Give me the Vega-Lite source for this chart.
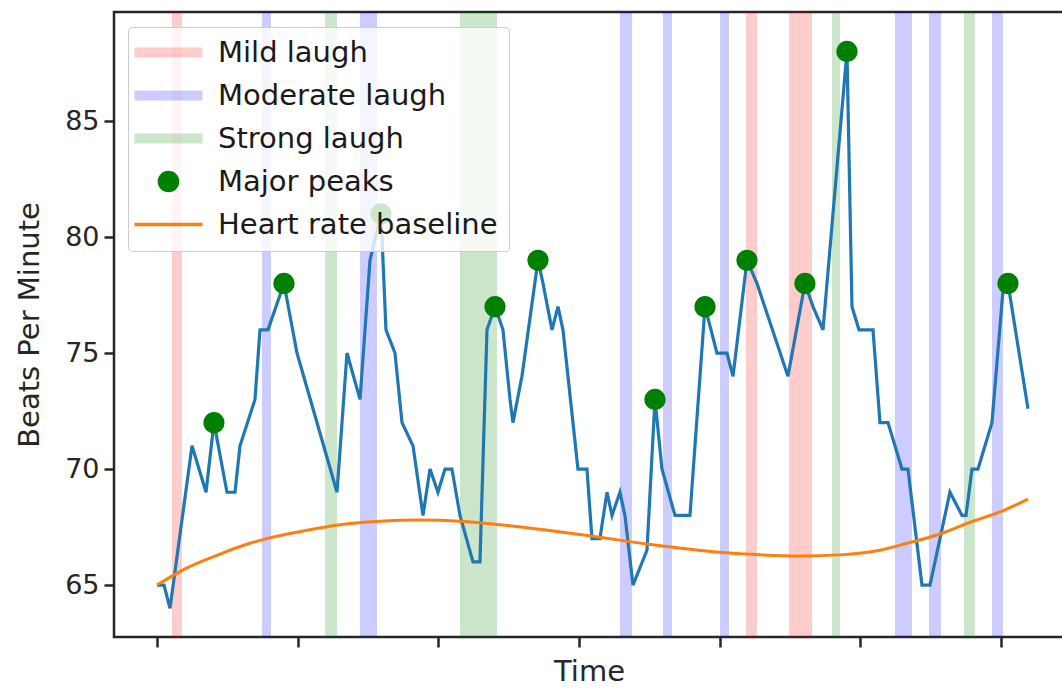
{
  "$schema": "https://vega.github.io/schema/vega-lite/v6.json",
  "width": 950,
  "height": 625,
  "autosize": {"type": "none"},
  "padding": {"left": 114, "top": 12, "right": 0, "bottom": 54},
  "background": "white",
  "config": {
    "view": {"stroke": "#262626", "strokeWidth": 2.5},
    "font": "DejaVu Sans",
    "axis": {"grid": false, "domain": false, "tickColor": "#262626", "tickWidth": 2.5, "tickSize": 10, "labelFont": "DejaVu Sans", "titleFont": "DejaVu Sans", "labelColor": "#262626", "titleColor": "#262626", "labelFontSize": 27, "titleFontSize": 29, "titleFontWeight": "normal"}
  },
  "datasets": {
    "hr": [
      {"t": 0, "bpm": 65}, {"t": 1.0, "bpm": 65}, {"t": 1.85, "bpm": 64}, {"t": 4.98, "bpm": 71}, {"t": 6.97, "bpm": 69},
      {"t": 8.10, "bpm": 72}, {"t": 9.95, "bpm": 69}, {"t": 11.09, "bpm": 69}, {"t": 11.80, "bpm": 71}, {"t": 13.93, "bpm": 73},
      {"t": 14.64, "bpm": 76}, {"t": 15.78, "bpm": 76}, {"t": 18.05, "bpm": 78}, {"t": 19.90, "bpm": 75}, {"t": 25.59, "bpm": 69},
      {"t": 27.01, "bpm": 75}, {"t": 28.86, "bpm": 73}, {"t": 30.28, "bpm": 79}, {"t": 31.84, "bpm": 81}, {"t": 32.55, "bpm": 76},
      {"t": 33.83, "bpm": 75}, {"t": 34.83, "bpm": 72}, {"t": 36.39, "bpm": 71}, {"t": 37.81, "bpm": 68}, {"t": 38.81, "bpm": 70},
      {"t": 39.94, "bpm": 69}, {"t": 40.94, "bpm": 70}, {"t": 41.93, "bpm": 70}, {"t": 43.07, "bpm": 68}, {"t": 44.92, "bpm": 66},
      {"t": 45.91, "bpm": 66}, {"t": 46.91, "bpm": 76}, {"t": 48.05, "bpm": 77}, {"t": 49.18, "bpm": 76}, {"t": 50.18, "bpm": 73},
      {"t": 50.60, "bpm": 72}, {"t": 51.88, "bpm": 74}, {"t": 54.16, "bpm": 79}, {"t": 54.87, "bpm": 78}, {"t": 56.15, "bpm": 76},
      {"t": 57.00, "bpm": 77}, {"t": 57.71, "bpm": 76}, {"t": 59.84, "bpm": 70}, {"t": 61.12, "bpm": 70}, {"t": 61.83, "bpm": 67},
      {"t": 62.96, "bpm": 67}, {"t": 63.97, "bpm": 69}, {"t": 64.68, "bpm": 68}, {"t": 65.81, "bpm": 69}, {"t": 66.52, "bpm": 68},
      {"t": 67.66, "bpm": 65}, {"t": 69.65, "bpm": 66.5}, {"t": 70.79, "bpm": 73}, {"t": 71.78, "bpm": 70}, {"t": 73.63, "bpm": 68},
      {"t": 75.76, "bpm": 68}, {"t": 77.90, "bpm": 77}, {"t": 79.60, "bpm": 75}, {"t": 81.02, "bpm": 75}, {"t": 81.88, "bpm": 74},
      {"t": 83.87, "bpm": 79}, {"t": 85.29, "bpm": 78}, {"t": 89.69, "bpm": 74}, {"t": 92.11, "bpm": 78}, {"t": 93.25, "bpm": 77},
      {"t": 94.67, "bpm": 76}, {"t": 98.08, "bpm": 88}, {"t": 98.79, "bpm": 77}, {"t": 99.79, "bpm": 76}, {"t": 101.78, "bpm": 76},
      {"t": 102.77, "bpm": 72}, {"t": 103.91, "bpm": 72}, {"t": 105.90, "bpm": 70}, {"t": 106.75, "bpm": 70}, {"t": 108.74, "bpm": 65},
      {"t": 109.88, "bpm": 65}, {"t": 112.72, "bpm": 69}, {"t": 114.43, "bpm": 68}, {"t": 115.00, "bpm": 68}, {"t": 115.85, "bpm": 70},
      {"t": 116.70, "bpm": 70}, {"t": 118.69, "bpm": 72}, {"t": 120.26, "bpm": 77.7}, {"t": 120.97, "bpm": 78}, {"t": 123.81, "bpm": 72.6}
    ],
    "peaks": [
      {"t": 8.10, "bpm": 72, "label": "Major peaks"}, {"t": 18.05, "bpm": 78, "label": "Major peaks"},
      {"t": 31.84, "bpm": 81, "label": "Major peaks"}, {"t": 48.05, "bpm": 77, "label": "Major peaks"},
      {"t": 54.16, "bpm": 79, "label": "Major peaks"}, {"t": 70.79, "bpm": 73, "label": "Major peaks"},
      {"t": 77.90, "bpm": 77, "label": "Major peaks"}, {"t": 83.87, "bpm": 79, "label": "Major peaks"},
      {"t": 92.11, "bpm": 78, "label": "Major peaks"}, {"t": 98.08, "bpm": 88, "label": "Major peaks"},
      {"t": 120.97, "bpm": 78, "label": "Major peaks"}
    ],
    "base": [
      {"t": 0, "bpm": 65.0, "label": "Heart rate baseline"}, {"t": 3.98, "bpm": 65.7, "label": "Heart rate baseline"},
      {"t": 8.24, "bpm": 66.25, "label": "Heart rate baseline"}, {"t": 13.22, "bpm": 66.8, "label": "Heart rate baseline"},
      {"t": 15.64, "bpm": 67.0, "label": "Heart rate baseline"}, {"t": 20.33, "bpm": 67.3, "label": "Heart rate baseline"},
      {"t": 26.01, "bpm": 67.6, "label": "Heart rate baseline"}, {"t": 31.70, "bpm": 67.75, "label": "Heart rate baseline"},
      {"t": 37.38, "bpm": 67.8, "label": "Heart rate baseline"}, {"t": 43.07, "bpm": 67.75, "label": "Heart rate baseline"},
      {"t": 48.76, "bpm": 67.6, "label": "Heart rate baseline"}, {"t": 54.44, "bpm": 67.4, "label": "Heart rate baseline"},
      {"t": 61.98, "bpm": 67.1, "label": "Heart rate baseline"}, {"t": 70.08, "bpm": 66.75, "label": "Heart rate baseline"},
      {"t": 80.31, "bpm": 66.4, "label": "Heart rate baseline"}, {"t": 85.71, "bpm": 66.3, "label": "Heart rate baseline"},
      {"t": 91.40, "bpm": 66.25, "label": "Heart rate baseline"}, {"t": 97.09, "bpm": 66.3, "label": "Heart rate baseline"},
      {"t": 102.77, "bpm": 66.5, "label": "Heart rate baseline"}, {"t": 106.61, "bpm": 66.8, "label": "Heart rate baseline"},
      {"t": 111.30, "bpm": 67.2, "label": "Heart rate baseline"}, {"t": 115.99, "bpm": 67.75, "label": "Heart rate baseline"},
      {"t": 119.83, "bpm": 68.15, "label": "Heart rate baseline"}, {"t": 123.81, "bpm": 68.7, "label": "Heart rate baseline"}
    ],
    "bands": [
      {"start": 2.13, "end": 3.55, "label": "Mild laugh"},
      {"start": 83.72, "end": 85.29, "label": "Mild laugh"},
      {"start": 89.84, "end": 93.11, "label": "Mild laugh"},
      {"start": 14.93, "end": 16.20, "label": "Moderate laugh"},
      {"start": 28.86, "end": 31.27, "label": "Moderate laugh"},
      {"start": 65.81, "end": 67.52, "label": "Moderate laugh"},
      {"start": 71.93, "end": 73.21, "label": "Moderate laugh"},
      {"start": 80.03, "end": 81.31, "label": "Moderate laugh"},
      {"start": 104.90, "end": 107.32, "label": "Moderate laugh"},
      {"start": 109.74, "end": 111.44, "label": "Moderate laugh"},
      {"start": 118.69, "end": 120.26, "label": "Moderate laugh"},
      {"start": 23.88, "end": 25.59, "label": "Strong laugh"},
      {"start": 43.07, "end": 48.33, "label": "Strong laugh"},
      {"start": 95.95, "end": 97.09, "label": "Strong laugh"},
      {"start": 114.71, "end": 116.27, "label": "Strong laugh"}
    ]
  },
  "layer": [
    {
      "data": {"name": "bands"},
      "mark": {"type": "rect", "opacity": 1},
      "encoding": {
        "x": {"field": "start", "type": "quantitative", "scale": {"domain": [-6.11, 128.93], "nice": false, "zero": false},
              "axis": {"title": "Time", "labels": false, "values": [0, 20, 40, 60, 80, 100, 120], "titlePadding": 9}},
        "x2": {"field": "end"},
        "color": {
          "field": "label", "type": "nominal",
          "scale": {"domain": ["Mild laugh", "Moderate laugh", "Strong laugh", "Major peaks", "Heart rate baseline"],
                    "range": ["rgba(255,0,0,0.2)", "rgba(0,0,255,0.2)", "rgba(0,128,0,0.2)", "#008000", "#ff7f0e"]},
          "legend": {
            "title": null,
            "orient": "none",
            "legendX": 14,
            "legendY": 15,
            "padding": 11,
            "fillColor": "rgba(255,255,255,0.8)",
            "strokeColor": "#cccccc",
            "cornerRadius": 4,
            "labelFont": "DejaVu Sans",
            "labelFontSize": 29,
            "labelColor": "#1a1a1a",
            "labelLimit": 500,
            "symbolSize": 576,
            "symbolOffset": 15,
            "labelOffset": 35,
            "rowPadding": 13,
            "symbolStrokeWidth": 0,
            "symbolOpacity": 1,
            "encode": {
              "symbols": {
                "update": {
                  "shape": {"signal": "datum.value === 'Major peaks' ? 'M-0.9,0A0.9,0.9 0 1,0 0.9,0A0.9,0.9 0 1,0 -0.9,0Z' : datum.value === 'Heart rate baseline' ? 'M-2.83,-0.15H2.83V0.15H-2.83Z' : 'M-2.83,-0.42H2.83V0.42H-2.83Z'"},
                  "fill": {"signal": "scale('color', datum.value)"},
                  "stroke": {"value": "transparent"},
                  "strokeWidth": {"value": 0},
                  "opacity": {"value": 1},
                  "size": {"value": 576}
                }
              }
            }
          }
        }
      }
    },
    {
      "data": {"name": "hr"},
      "mark": {"type": "line", "color": "#1f77b4", "strokeWidth": 3.2, "interpolate": "linear"},
      "encoding": {
        "x": {"field": "t", "type": "quantitative"},
        "y": {"field": "bpm", "type": "quantitative", "scale": {"domain": [62.76, 89.7], "nice": false, "zero": false},
              "axis": {"title": "Beats Per Minute", "values": [65, 70, 75, 80, 85], "labelPadding": 5, "titlePadding": 20}}
      }
    },
    {
      "data": {"name": "base"},
      "mark": {"type": "line", "strokeWidth": 3, "interpolate": "monotone"},
      "encoding": {
        "x": {"field": "t", "type": "quantitative"},
        "y": {"field": "bpm", "type": "quantitative"},
        "color": {"field": "label", "type": "nominal"}
      }
    },
    {
      "data": {"name": "peaks"},
      "mark": {"type": "circle", "size": 450, "opacity": 1},
      "encoding": {
        "x": {"field": "t", "type": "quantitative"},
        "y": {"field": "bpm", "type": "quantitative"},
        "color": {"field": "label", "type": "nominal"}
      }
    }
  ]
}
